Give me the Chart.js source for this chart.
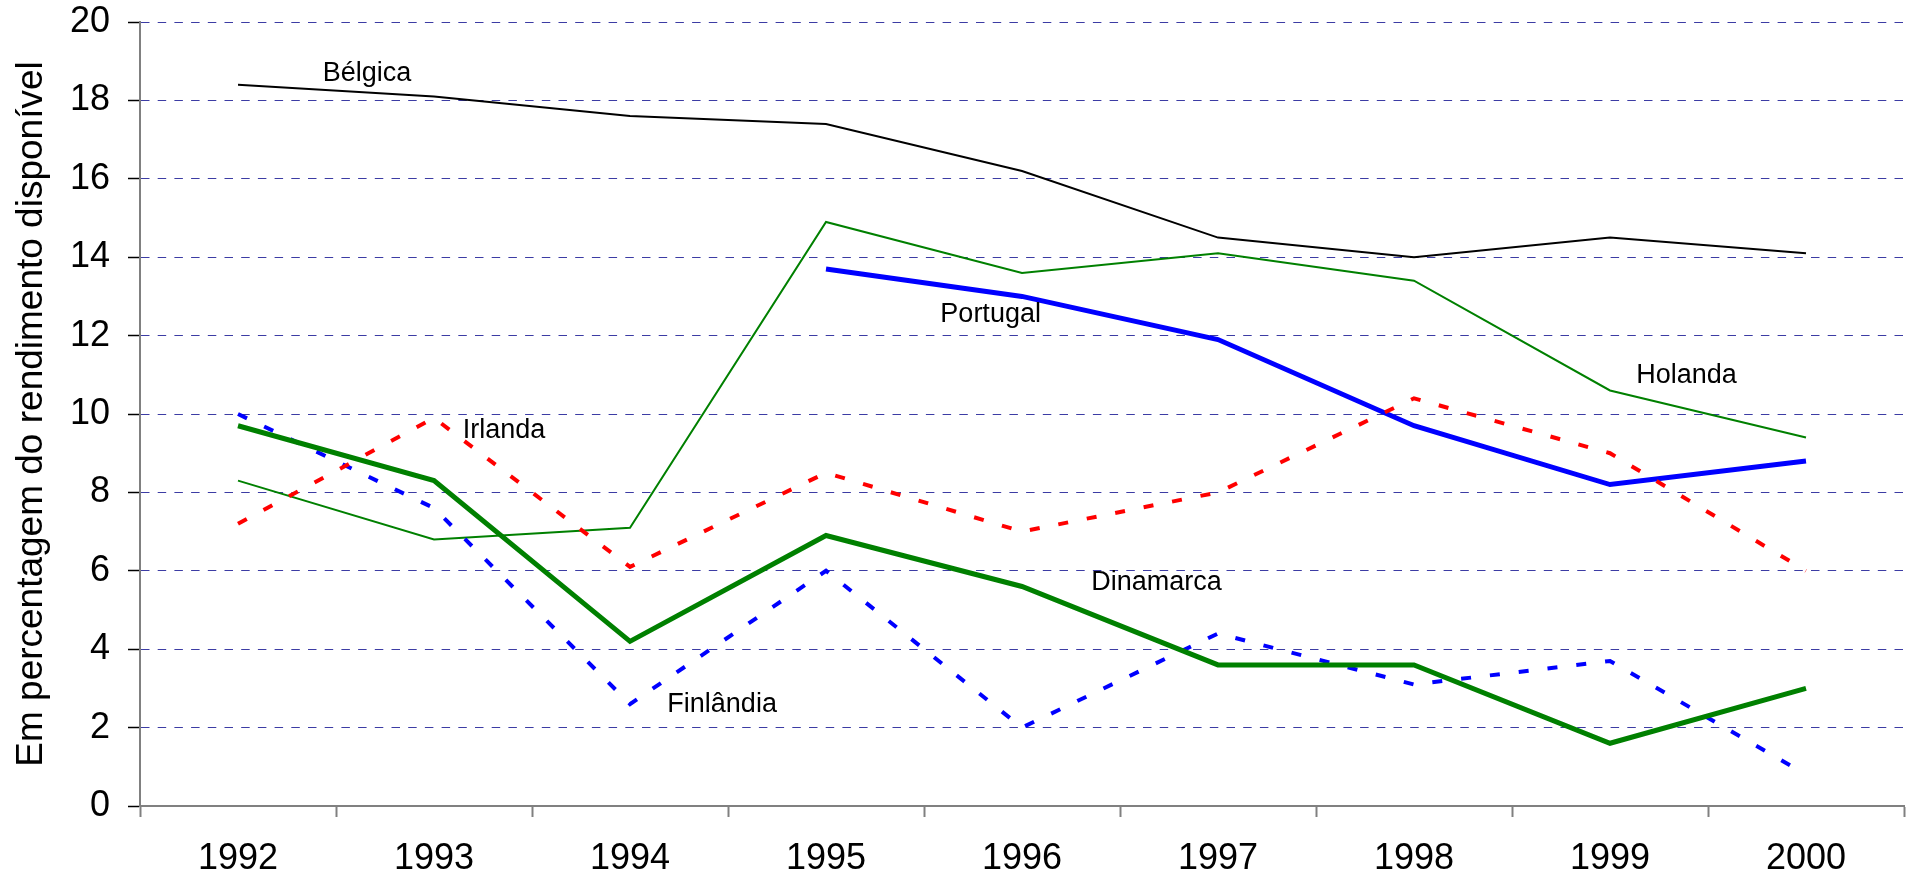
<!DOCTYPE html>
<html>
<head>
<meta charset="utf-8">
<script src="https://cdn.jsdelivr.net/npm/chart.js@4/dist/chart.umd.min.js"></script>
<style>
  body { margin: 0; background: #fff; }
  canvas { display: block; }
</style>
</head>
<body>
<canvas id="chart" width="1912" height="880"></canvas>
<script>
// data
const years = ['1992', '1993', '1994', '1995', '1996', '1997', '1998', '1999', '2000'];
const belgica   = [18.4, 18.1, 17.6, 17.4, 16.2, 14.5, 14.0, 14.5, 14.1];
const holanda   = [8.3, 6.8, 7.1, 14.9, 13.6, 14.1, 13.4, 10.6, 9.4];
const portugal  = [null, null, null, 13.7, 13.0, 11.9, 9.7, 8.2, 8.8];
const irlanda   = [7.2, 9.9, 6.1, 8.5, 7.0, 8.0, 10.4, 9.0, 6.0];
const finlandia = [10.0, 7.6, 2.6, 6.0, 2.0, 4.4, 3.1, 3.7, 0.8];
const dinamarca = [9.7, 8.3, 4.2, 6.9, 5.6, 3.6, 3.6, 1.6, 3.0];

const yTicks = [0, 2, 4, 6, 8, 10, 12, 14, 16, 18, 20];
const yTitle = 'Em percentagem do rendimento disponível';

// series name labels: position in category index / value units
const seriesNames = ['Bélgica', 'Portugal', 'Holanda', 'Irlanda', 'Dinamarca', 'Finlândia'];
const nameAtX = [0.658, 3.84, 7.39, 1.357, 4.686, 2.47];
const nameAtY = [18.69, 12.54, 10.97, 9.57, 5.69, 2.60];

const FONT = '"Liberation Sans", Arial, sans-serif';

const namesPlugin = {
    id: 'seriesNames',
    afterDatasetsDraw: function (chart) {
        const ctx = chart.ctx;
        const xs = chart.scales.x, ys = chart.scales.y;
        ctx.save();
        ctx.font = '27px ' + FONT;
        ctx.fillStyle = '#000';
        ctx.textAlign = 'center';
        ctx.textBaseline = 'middle';
        seriesNames.forEach(function (name, i) {
            ctx.fillText(name, xs.getPixelForValue(nameAtX[i]), ys.getPixelForValue(nameAtY[i]));
        });
        ctx.restore();
    }
};

function line(label, data, color, width, dash) {
    return {
        label: label,
        data: data,
        borderColor: color,
        backgroundColor: color,
        borderWidth: width,
        borderDash: dash || [],
        borderCapStyle: 'butt',
        borderJoinStyle: 'miter',
        pointRadius: 0,
        pointHoverRadius: 0,
        tension: 0,
        fill: false,
        spanGaps: false
    };
}

new Chart(document.getElementById('chart'), {
    type: 'line',
    data: {
        labels: years,
        datasets: [
            line('Irlanda', irlanda, '#ff0000', 4, [10, 19]),
            line('Portugal', portugal, '#0000ff', 5),
            line('Dinamarca', dinamarca, '#008000', 5),
            line('Finlândia', finlandia, '#0000ff', 4, [10, 19]),
            line('Holanda', holanda, '#008000', 2),
            line('Bélgica', belgica, '#000000', 2)
        ]
    },
    options: {
        responsive: false,
        animation: false,
        events: [],
        layout: { padding: { top: 22, right: 8, left: 0, bottom: 0 } },
        plugins: {
            legend: { display: false },
            tooltip: { enabled: false }
        },
        scales: {
            x: {
                type: 'category',
                offset: true,
                grid: {
                    display: true,
                    offset: true,
                    drawOnChartArea: false,
                    drawTicks: true,
                    tickLength: 11,
                    tickColor: '#808080',
                    tickWidth: 2
                },
                border: { color: '#808080', width: 2 },
                ticks: {
                    color: '#000',
                    font: { family: FONT, size: 36 },
                    padding: 20,
                    maxRotation: 0,
                    autoSkip: false
                },
                afterFit: function (s) {
                    s.height = 74;
                    s.paddingLeft = 0;
                    s.paddingRight = 0;
                }
            },
            y: {
                min: 0,
                max: 20,
                afterBuildTicks: function (s) {
                    s.ticks = yTicks.map(function (v) { return { value: v }; });
                },
                grid: {
                    color: '#3c3ca4',
                    lineWidth: 1,
                    drawTicks: true,
                    tickLength: 12,
                    tickColor: '#000',
                    tickWidth: 1.5
                },
                border: { color: '#808080', width: 2, dash: [8.5, 8.2] },
                ticks: {
                    color: '#000',
                    font: { family: FONT, size: 36 },
                    padding: 18
                },
                title: {
                    display: true,
                    text: yTitle,
                    color: '#000',
                    font: { family: FONT, size: 37 },
                    padding: { top: 10, bottom: 0 }
                },
                afterFit: function (s) {
                    s.width = 140;
                    s.paddingTop = 0;
                    s.paddingBottom = 0;
                }
            }
        }
    },
    plugins: [namesPlugin]
});
</script>
</body>
</html>
